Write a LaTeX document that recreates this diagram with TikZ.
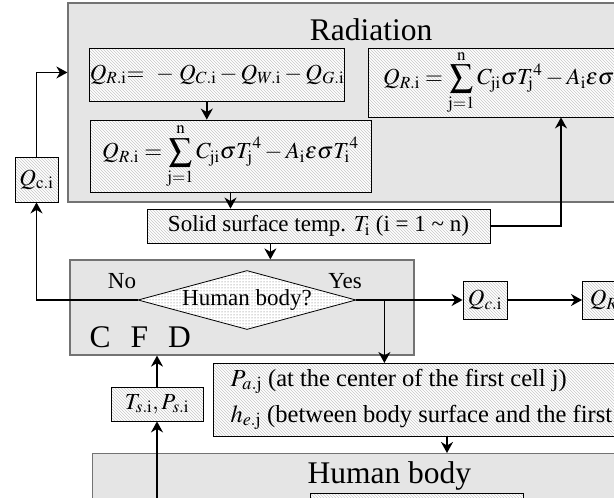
\documentclass[tikz,border=0pt]{standalone}
\usepackage{mathptmx}
\usepackage{fontspec}
\setmainfont{Liberation Serif}
\usetikzlibrary{patterns,arrows.meta,calc,shapes.geometric}
\tikzset{
  graybox/.style={rectangle, draw=black!55, line width=1.2pt, fill=black!10, inner sep=0pt},
  hatchbox/.style={rectangle, draw=black, line width=0.8pt, preaction={fill=white}, pattern=north west lines, pattern color=black!22, inner sep=0pt},
  arr/.style={line width=1.6pt, -{Stealth[length=11pt,width=12pt,inset=3.5pt]}},
  txt/.style={font=\fontsize{23}{27}\selectfont},
  ptxt/.style={font=\fontsize{24.5}{28}\selectfont},
  big/.style={font=\fontsize{31.5}{36}\selectfont},
}
\begin{document}
\begin{tikzpicture}[x=1pt,y=-1pt]
\useasboundingbox (0,0) rectangle (614,498);
\clip (0,0) rectangle (614,498);
% Radiation block
\node[graybox, minimum width=612pt, minimum height=199pt] (rad) at (374,102.5) {};
\node[big, anchor=base] (radlbl) at (371,40) {Radiation};
\node[hatchbox, minimum width=254pt, minimum height=53pt, txt] (eq1) at (217,74.5)
  {$Q_{R.\mathrm{i}}{=}\ \ {-}\;Q_{C.\mathrm{i}}-Q_{W.\mathrm{i}}-Q_{G.\mathrm{i}}$};
\node[hatchbox, minimum width=281pt, minimum height=72pt, txt] (eq2) at (230.5,156)
  {$\displaystyle Q_{R.\mathrm{i}}=\sum_{\mathrm{j}=1}^{\mathrm{n}}C_{\mathrm{ji}}\sigma {T_{\mathrm{j}}}^{4}-A_{\mathrm{i}}\epsilon\sigma {T_{\mathrm{i}}}^{4}$};
\node[hatchbox, minimum width=286pt, minimum height=69pt, txt, anchor=west] (eq3) at (368,82.5)
  {$\displaystyle Q_{R.\mathrm{i}}=\sum_{\mathrm{j}=1}^{\mathrm{n}}C_{\mathrm{ji}}\sigma {T_{\mathrm{j}}}^{4}-A_{\mathrm{i}}\epsilon\sigma {T_{\mathrm{i}}}^{4}$};
\node[hatchbox, minimum width=43pt, minimum height=45pt, txt] (qc1) at (36.5,179.5) {$Q_{\mathrm{c.i}}$};
% solid surface
\node[hatchbox, minimum width=343pt, minimum height=34pt, txt] (solid) at (318.5,226)
  {Solid surface temp. $T_{\mathrm{i}}$ (i = 1 \textasciitilde{} n)};
% CFD block
\node[graybox, minimum width=344pt, minimum height=95pt] (cfd) at (242,307.5) {};
\node[big, anchor=base west] (cfdlbl) at (86,347) {C\hspace{20pt}F\hspace{20pt}D};
\node[txt, anchor=base] (no) at (122,288) {No};
\node[txt, anchor=base] (yes) at (345,288) {Yes};
\node[diamond, draw=black, line width=0.8pt, preaction={fill=white}, pattern=dots, pattern color=black!60,
  shape aspect=3.7, minimum width=218pt, minimum height=59pt, inner sep=0pt, text height=14pt, text depth=3pt, txt] (dia) at (247,300) {Human body?};
\node[hatchbox, minimum width=44pt, minimum height=38pt, txt] (qc2) at (485,300) {$Q_{c.\mathrm{i}}$};
\node[hatchbox, minimum width=52pt, minimum height=38pt, txt, anchor=west] (qc3) at (582,300) {$Q_{R.\mathrm{i}}$};
% P box
\node[hatchbox, minimum width=500pt, minimum height=73pt, anchor=north west] (pbox) at (213,363) {};
\node[ptxt, anchor=base west] (pl1) at (227,386) {$P_{a.\mathrm{j}}$ (at the center of the first cell j)};
\node[ptxt, anchor=base west] (pl2) at (227,422) {$h_{e.\mathrm{j}}$ (between body surface and the first cell j)};
\node[hatchbox, minimum width=92pt, minimum height=34pt, txt] (tbox) at (157,404) {$T_{s.\mathrm{i}}, P_{s.\mathrm{i}}$};
% Human body block
\node[graybox, minimum width=620pt, minimum height=80pt, anchor=north west] (body) at (92,453) {};
\node[big, anchor=base west] (bodylbl) at (304,483) {Human body};
\node[hatchbox, minimum width=213pt, minimum height=30pt, anchor=north west] (inner) at (310,493) {};
% connectors
\draw[arr] (qc1.north) |- ($(rad.north west)!0.35!(rad.south west)$);
\draw[arr] ($(eq1.south west)!0.46!(eq1.south east)$) coordinate (a1) -- (a1 |- eq2.north);
\draw[arr] (eq2.south) -- (eq2.south |- solid.north);
\draw[arr] (solid.east) -| ($(eq3.south west)+(193,0)$);
\draw[arr] ($(solid.south west)!0.36!(solid.south east)$) coordinate (a2) -- (a2 |- cfd.north);
\draw[arr] (dia.west) -| (qc1.south);
\draw[arr] (dia.east) -- (qc2.west);
\draw[arr] (qc2.east) -- (qc3.west);
\draw[arr] ($(dia.east)+(28,0)$) coordinate (yb) -- (yb |- pbox.north);
\draw[arr] (tbox.north) -- (tbox.north |- cfd.south);
\draw[arr] (body.south -| tbox.south) -- (tbox.south);
\draw[arr] ($(pbox.south west)+(234,0)$) coordinate (a3) -- (a3 |- body.north);
\end{tikzpicture}
\end{document}
